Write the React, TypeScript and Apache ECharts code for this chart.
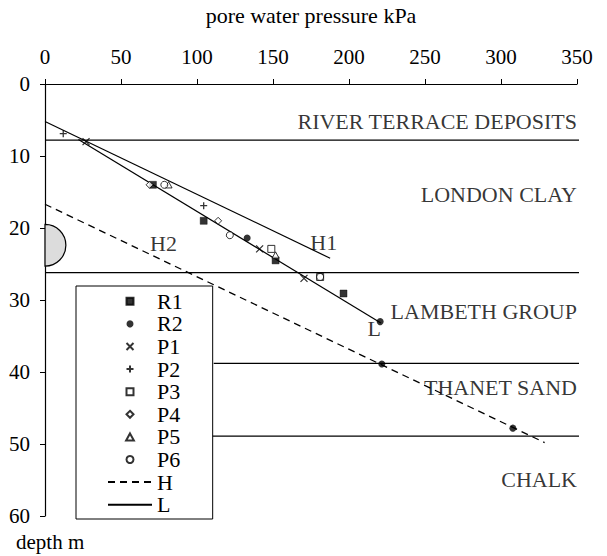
import React, { useEffect, useRef } from "react";
import * as echarts from "echarts";

const xTicks = [0, 50, 100, 150, 200, 250, 300, 350];
const yTicks = [0, 10, 20, 30, 40, 50, 60];

const R1 = [[71, 14], [104.4, 19], [151.7, 24.5], [196.4, 29.1]];
const R2 = [[133, 21.4], [220.5, 33], [221.6, 38.9], [307.8, 47.8]];
const P1 = [[27, 8], [141.2, 22.9], [170.4, 27]];
const P2 = [[12, 6.9], [104.4, 16.9]];
const P3 = [[148.9, 22.9], [181, 26.8]];
const P4 = [[68.8, 14], [113.9, 19]];
const P5 = [[81.3, 14], [151.7, 23.75]];
const P6 = [[78.5, 14], [121.6, 21], [181, 26.8]];

const lineH = [[0, 16.7], [328.7, 49.8]];
const lineL = [[22, 7.7], [221, 33.2]];
const lineH1 = [[0, 5.2], [187.6, 24.2]];

// layer boundaries: [startX, endX, depth]
const boundaries = [
  [0, 355, 7.8],
  [0, 355, 26.2],
  [111, 355, 38.8],
  [109, 355, 48.9],
];

const layerNames = ["RIVER TERRACE DEPOSITS", "LONDON CLAY", "LAMBETH GROUP", "THANET SAND", "CHALK"];
const layerDepths = [5.2, 15.4, 31.6, 42.2, 54.9];

const lineLabels = ["H1", "H2", "L"];
const lineLabelPos = [[183.4, 22.0], [78, 22.2], [216.6, 33.9]];

const lensCenter = [0, 22.4];
const lensRadius = 2.9;

const FONT = "'Liberation Serif', 'Times New Roman', serif";

const SQUARE = "path://M0,0L10,0L10,10L0,10Z";
const DIAMOND = "path://M5,0L10,5L5,10L0,5Z";
const TRIANGLE = "path://M5,0L10,9L0,9Z";
const CROSS = "path://M0,0L10,10M10,0L0,10";
const PLUS = "path://M5,0L5,10M0,5L10,5";

export default function App() {
  const ref = useRef<HTMLDivElement>(null);
  useEffect(() => {
    if (!ref.current) return;
    const chart = echarts.init(ref.current, null, { renderer: "svg" });
    const hollow = { color: "#fff", borderColor: "#000", borderWidth: 1 };
    const strokeOnly = { color: "transparent", borderColor: "#000", borderWidth: 1.3 };
    const scatter = (name: string, data: number[][], symbol: string, itemStyle: any, size = 7) => ({
      name,
      type: "scatter",
      data,
      symbol,
      symbolSize: size,
      symbolKeepAspect: true,
      itemStyle,
      z: 5,
    });
    const series: any[] = [];
    boundaries.forEach((b, i) => {
      series.push({
        name: "boundary" + i,
        type: "line",
        data: [[b[0], b[2]], [b[1], b[2]]],
        symbol: "none",
        clip: false,
        lineStyle: { color: "#000", width: 1.2 },
        z: 1,
      });
    });
    series.push({
      name: "H1",
      type: "line",
      data: lineH1,
      symbol: "none",
      lineStyle: { color: "#000", width: 1.2 },
      z: 2,
    });
    series.push(scatter("R1", R1, SQUARE, { color: "#000", borderColor: "#000", borderWidth: 0.5 }));
    series.push(scatter("R2", R2, "circle", { color: "#000" }));
    series.push(scatter("P1", P1, CROSS, strokeOnly));
    series.push(scatter("P2", P2, PLUS, strokeOnly));
    series.push(scatter("P3", P3, SQUARE, hollow));
    series.push(scatter("P4", P4, DIAMOND, hollow));
    series.push(scatter("P5", P5, TRIANGLE, hollow));
    series.push(scatter("P6", P6, "circle", hollow));
    series.push({
      name: "H",
      type: "line",
      data: lineH,
      symbol: "none",
      itemStyle: { color: "#000", opacity: 0 },
      lineStyle: { color: "#000", width: 1.3, type: [7, 5], opacity: 1 },
      z: 2,
    });
    series.push({
      name: "L",
      type: "line",
      data: lineL,
      symbol: "none",
      itemStyle: { color: "#000", opacity: 0 },
      lineStyle: { color: "#000", width: 1.2, opacity: 1 },
      z: 2,
    });
    series.push({
      name: "layers",
      type: "scatter",
      symbolSize: 0,
      silent: true,
      data: layerNames.map((n, i) => ({ name: n, value: [350, layerDepths[i]] })),
      label: {
        show: true,
        formatter: "{b}",
        position: "inside",
        align: "right",
        verticalAlign: "middle",
        color: "#000",
        fontFamily: FONT,
        fontSize: 22,
      },
      z: 6,
    });
    series.push({
      name: "lineLabels",
      type: "scatter",
      symbolSize: 0,
      silent: true,
      data: lineLabels.map((n, i) => ({ name: n, value: lineLabelPos[i] })),
      label: {
        show: true,
        formatter: "{b}",
        position: "inside",
        align: "center",
        verticalAlign: "middle",
        color: "#000",
        fontFamily: FONT,
        fontSize: 22,
      },
      z: 6,
    });
    series.push({
      name: "lens",
      type: "custom",
      data: [lensCenter],
      z: 3,
      renderItem: (params: any, api: any) => {
        const p = api.coord([api.value(0), api.value(1)]);
        const r = api.size([0, lensRadius])[1];
        return {
          type: "sector",
          shape: {
            cx: p[0],
            cy: p[1],
            r0: 0,
            r: r,
            startAngle: -Math.PI / 2,
            endAngle: Math.PI / 2,
            clockwise: true,
          },
          style: { fill: "#dcdcdc", stroke: "#000", lineWidth: 1.2 },
        };
      },
    });

    chart.setOption({
      animation: false,
      backgroundColor: "#fff",
      textStyle: { fontFamily: FONT, color: "#000" },
      grid: { left: 45, right: 30, top: 84, bottom: 40, containLabel: false, outerBoundsMode: "none" },
      xAxis: {
        type: "value",
        position: "top",
        min: xTicks[0],
        max: xTicks[xTicks.length - 1],
        interval: xTicks[1] - xTicks[0],
        name: "pore water pressure kPa",
        nameLocation: "middle",
        nameGap: 58,
        nameTextStyle: { fontFamily: FONT, fontSize: 22, color: "#000" },
        axisLine: { lineStyle: { color: "#000", width: 1.2 } },
        axisTick: { inside: false, length: 5, lineStyle: { color: "#000" } },
        axisLabel: { fontFamily: FONT, fontSize: 21, color: "#000", margin: 17 },
        splitLine: { show: false },
      },
      yAxis: {
        type: "value",
        inverse: true,
        min: yTicks[0],
        max: yTicks[yTicks.length - 1],
        interval: yTicks[1] - yTicks[0],
        axisLine: { show: true, lineStyle: { color: "#000", width: 1.2 } },
        axisTick: { show: true, inside: false, length: 5, lineStyle: { color: "#000" } },
        axisLabel: { fontFamily: FONT, fontSize: 21, color: "#000", margin: 15 },
        splitLine: { show: false },
      },
      legend: {
        orient: "vertical",
        left: 76,
        top: 286,
        data: ["R1", "R2", "P1", "P2", "P3", "P4", "P5", "P6", "H", "L"],
        itemWidth: 44,
        itemHeight: 7,
        itemGap: 0,
        padding: [4, 30, 3, 31],
        backgroundColor: "#fff",
        borderColor: "#000",
        borderWidth: 1,
        borderRadius: 0,
        textStyle: { fontFamily: FONT, fontSize: 22, color: "#000", lineHeight: 22.6 },
        selectedMode: false,
        z: 10,
      },
      graphic: [
        {
          type: "text",
          left: 16,
          top: 531,
          style: { text: "depth m", font: "21px " + FONT, fill: "#000" },
        },
      ],
      series,
    });
    return () => chart.dispose();
  }, []);
  return (
    <div
      ref={ref}
      style={{ position: "fixed", left: 0, top: 0, width: 607, height: 556, background: "#fff" }}
    />
  );
}
